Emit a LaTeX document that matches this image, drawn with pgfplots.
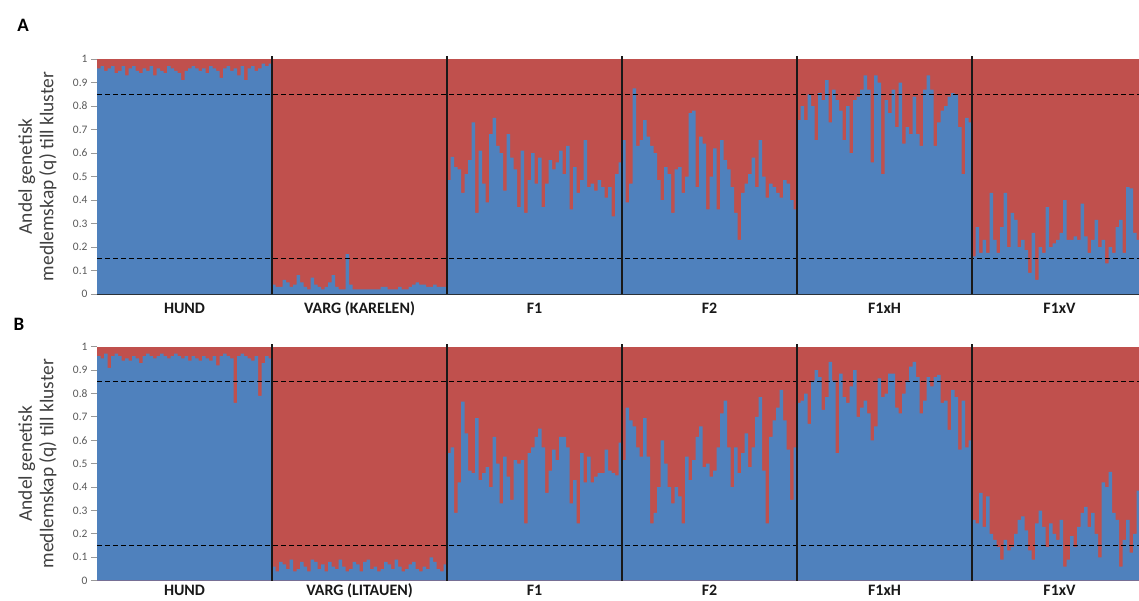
\documentclass[border=0pt]{standalone}
\usepackage{pgfplots}
\pgfplotsset{compat=1.18}
\usepackage{fontspec}
\setmainfont{Carlito}
\definecolor{qblue}{HTML}{4F81BD}
\definecolor{qred}{HTML}{C0504D}
\definecolor{tickgray}{HTML}{595959}
\newcommand{\grp}[2]{\addplot[fill=qblue, draw=none, const plot mark left] table[row sep=\\, x expr=\coordindex+#1, y=q] {q\\ #2} \closedcycle;}
\pgfplotsset{struct/.style={
  scale only axis, width=1042bp,
  xmin=0, xmax=297.7, ymin=0, ymax=1,
  clip=false,
  axis x line=bottom, axis y line=left,
  x axis line style={-, draw=black!85, line width=1.4bp},
  y axis line style={draw=none},
  ytick={0,0.1,0.2,0.3,0.4,0.5,0.6,0.7,0.8,0.9,1},
  yticklabel style={font=\fontsize{11.5}{13}\selectfont, text=tickgray},
  /pgf/number format/assume math mode=true,
  ytick style={draw=gray!80, line width=0.9bp},
  tick align=outside, major tick length=6bp,
  xtick={25,75,125,175,225,275},
  xtick style={draw=none},
  xticklabel style={font=\fontsize{16}{18}\selectfont\bfseries, text=black!90, anchor=base, yshift=-13bp},
  ylabel={Andel genetisk\\medlemskap (q) till kluster},
  ylabel style={align=center, font=\fontsize{19.5}{21.5}\selectfont, text=black!75, at={(axis description cs:-0.0571,0.5)}, anchor=center},
}}
\begin{document}
\begin{tikzpicture}
\useasboundingbox (0,0) rectangle (1139bp,-601bp);
\node[font=\fontsize{19}{22}\selectfont\bfseries] at (23bp,-25.5bp) {A};
\node[font=\fontsize{19}{22}\selectfont\bfseries] at (19bp,-324bp) {B};
% ---------------- Panel A
\begin{axis}[struct, height=235bp, at={(97bp,-294bp)}, anchor=south west,
  xticklabels={HUND,VARG (KARELEN),F1,F2,F1xH,F1xV}]
\addplot[fill=qred, draw=none] coordinates {(0,1) (300,1)} \closedcycle;
\grp{0}{0.96\\0.97\\0.95\\0.96\\0.97\\0.94\\0.95\\0.97\\0.93\\0.96\\0.97\\0.95\\0.94\\0.96\\0.95\\0.97\\0.93\\0.96\\0.95\\0.94\\0.97\\0.96\\0.95\\0.94\\0.91\\0.95\\0.96\\0.97\\0.96\\0.95\\0.96\\0.94\\0.97\\0.96\\0.95\\0.92\\0.96\\0.97\\0.95\\0.96\\0.93\\0.97\\0.91\\0.96\\0.97\\0.95\\0.96\\0.98\\0.97\\0.98\\0.98\\}
\grp{50}{0.04\\0.03\\0.03\\0.06\\0.05\\0.03\\0.04\\0.08\\0.05\\0.03\\0.02\\0.07\\0.04\\0.03\\0.02\\0.03\\0.05\\0.08\\0.03\\0.02\\0.02\\0.17\\0.04\\0.02\\0.02\\0.02\\0.02\\0.02\\0.02\\0.02\\0.02\\0.03\\0.03\\0.02\\0.02\\0.02\\0.03\\0.02\\0.02\\0.03\\0.04\\0.05\\0.04\\0.04\\0.03\\0.03\\0.04\\0.03\\0.03\\0.03\\0.03\\}
\grp{100}{0.485\\0.584\\0.54\\0.53\\0.43\\0.51\\0.57\\0.73\\0.345\\0.61\\0.47\\0.39\\0.68\\0.75\\0.63\\0.60\\0.44\\0.68\\0.58\\0.53\\0.37\\0.61\\0.345\\0.485\\0.60\\0.47\\0.58\\0.37\\0.47\\0.57\\0.53\\0.56\\0.61\\0.51\\0.63\\0.36\\0.54\\0.43\\0.485\\0.655\\0.455\\0.47\\0.44\\0.485\\0.455\\0.41\\0.455\\0.33\\0.51\\0.56\\0.56\\}
\grp{150}{0.655\\0.39\\0.47\\0.875\\0.63\\0.655\\0.74\\0.67\\0.63\\0.60\\0.485\\0.40\\0.54\\0.51\\0.345\\0.53\\0.54\\0.43\\0.50\\0.77\\0.78\\0.455\\0.67\\0.64\\0.36\\0.50\\0.62\\0.36\\0.655\\0.57\\0.53\\0.455\\0.345\\0.23\\0.43\\0.47\\0.51\\0.58\\0.455\\0.655\\0.50\\0.41\\0.47\\0.455\\0.43\\0.41\\0.485\\0.47\\0.40\\0.36\\0.36\\}
\grp{200}{0.74\\0.80\\0.74\\0.85\\0.80\\0.655\\0.855\\0.825\\0.91\\0.73\\0.87\\0.825\\0.78\\0.655\\0.80\\0.60\\0.825\\0.84\\0.87\\0.93\\0.87\\0.56\\0.93\\0.90\\0.51\\0.825\\0.77\\0.87\\0.71\\0.90\\0.64\\0.71\\0.68\\0.84\\0.68\\0.63\\0.87\\0.93\\0.87\\0.63\\0.73\\0.78\\0.80\\0.84\\0.855\\0.85\\0.71\\0.51\\0.75\\0.73\\0.73\\}
\grp{250}{0.16\\0.285\\0.175\\0.23\\0.175\\0.43\\0.23\\0.175\\0.285\\0.43\\0.20\\0.345\\0.315\\0.20\\0.23\\0.187\\0.09\\0.26\\0.06\\0.20\\0.175\\0.37\\0.20\\0.215\\0.23\\0.26\\0.40\\0.23\\0.23\\0.245\\0.23\\0.385\\0.245\\0.175\\0.23\\0.315\\0.20\\0.23\\0.13\\0.20\\0.175\\0.285\\0.315\\0.175\\0.455\\0.45\\0.26\\0.23\\0.20\\0.20\\0.20\\}
\addplot[black, line width=1.1bp, dash pattern=on 4.5bp off 3.5bp] coordinates {(0,0.85) (300,0.85)};
\addplot[black, line width=1.1bp, dash pattern=on 4.5bp off 3.5bp] coordinates {(0,0.15) (300,0.15)};
\addplot[black!90, line width=1.4bp] coordinates {(50,0) (50,1.013)};
\addplot[black!90, line width=1.4bp] coordinates {(100,0) (100,1.013)};
\addplot[black!90, line width=1.4bp] coordinates {(150,0) (150,1.013)};
\addplot[black!90, line width=1.4bp] coordinates {(200,0) (200,1.013)};
\addplot[black!90, line width=1.4bp] coordinates {(250,0) (250,1.013)};
\end{axis}
% ---------------- Panel B
\begin{axis}[struct, height=234bp, at={(97bp,-580.7bp)}, anchor=south west,
  xticklabel style={yshift=4bp},
  xticklabels={HUND,VARG (LITAUEN),F1,F2,F1xH,F1xV}]
\addplot[fill=qred, draw=none] coordinates {(0,1) (300,1)} \closedcycle;
\grp{0}{0.96\\0.95\\0.97\\0.91\\0.96\\0.97\\0.96\\0.94\\0.95\\0.94\\0.96\\0.95\\0.93\\0.96\\0.97\\0.96\\0.95\\0.96\\0.97\\0.96\\0.95\\0.96\\0.97\\0.96\\0.95\\0.96\\0.94\\0.96\\0.95\\0.94\\0.96\\0.95\\0.94\\0.96\\0.92\\0.96\\0.97\\0.96\\0.95\\0.76\\0.96\\0.97\\0.96\\0.95\\0.94\\0.96\\0.79\\0.93\\0.96\\0.95\\0.95\\}
\grp{50}{0.06\\0.04\\0.08\\0.07\\0.05\\0.09\\0.04\\0.05\\0.08\\0.06\\0.04\\0.09\\0.08\\0.05\\0.07\\0.04\\0.08\\0.06\\0.05\\0.09\\0.06\\0.04\\0.05\\0.08\\0.07\\0.04\\0.08\\0.09\\0.05\\0.06\\0.04\\0.05\\0.08\\0.07\\0.05\\0.09\\0.06\\0.04\\0.05\\0.07\\0.08\\0.05\\0.04\\0.06\\0.05\\0.10\\0.08\\0.05\\0.04\\0.07\\0.07\\}
\grp{100}{0.545\\0.57\\0.29\\0.42\\0.765\\0.63\\0.47\\0.46\\0.695\\0.43\\0.46\\0.485\\0.40\\0.615\\0.50\\0.33\\0.53\\0.445\\0.345\\0.515\\0.50\\0.515\\0.245\\0.545\\0.57\\0.615\\0.65\\0.57\\0.375\\0.47\\0.56\\0.515\\0.615\\0.615\\0.57\\0.33\\0.43\\0.245\\0.545\\0.42\\0.53\\0.42\\0.445\\0.46\\0.46\\0.56\\0.47\\0.46\\0.45\\0.59\\0.59\\}
\grp{150}{0.515\\0.74\\0.685\\0.66\\0.57\\0.53\\0.695\\0.53\\0.245\\0.29\\0.40\\0.60\\0.50\\0.40\\0.33\\0.40\\0.36\\0.245\\0.53\\0.43\\0.515\\0.615\\0.66\\0.485\\0.50\\0.445\\0.47\\0.57\\0.715\\0.77\\0.57\\0.40\\0.57\\0.46\\0.545\\0.63\\0.485\\0.57\\0.70\\0.785\\0.47\\0.245\\0.615\\0.685\\0.74\\0.815\\0.685\\0.56\\0.345\\0.57\\0.57\\}
\grp{200}{0.76\\0.77\\0.80\\0.67\\0.855\\0.90\\0.87\\0.73\\0.785\\0.935\\0.855\\0.545\\0.885\\0.785\\0.76\\0.83\\0.90\\0.70\\0.74\\0.77\\0.715\\0.60\\0.66\\0.865\\0.785\\0.80\\0.885\\0.885\\0.74\\0.715\\0.80\\0.855\\0.915\\0.935\\0.87\\0.715\\0.77\\0.87\\0.83\\0.87\\0.88\\0.76\\0.77\\0.645\\0.815\\0.785\\0.56\\0.77\\0.57\\0.60\\0.60\\}
\grp{250}{0.26\\0.245\\0.375\\0.23\\0.36\\0.20\\0.175\\0.145\\0.09\\0.175\\0.13\\0.145\\0.20\\0.26\\0.275\\0.215\\0.13\\0.09\\0.245\\0.30\\0.23\\0.145\\0.245\\0.20\\0.175\\0.26\\0.06\\0.09\\0.19\\0.145\\0.23\\0.29\\0.315\\0.23\\0.29\\0.20\\0.10\\0.42\\0.40\\0.465\\0.29\\0.26\\0.06\\0.175\\0.26\\0.12\\0.20\\0.385\\0.26\\0.345\\0.345\\}
\addplot[black, line width=1.1bp, dash pattern=on 4.5bp off 3.5bp] coordinates {(0,0.85) (300,0.85)};
\addplot[black, line width=1.1bp, dash pattern=on 4.5bp off 3.5bp] coordinates {(0,0.15) (300,0.15)};
\addplot[black!90, line width=1.4bp] coordinates {(50,0) (50,1.013)};
\addplot[black!90, line width=1.4bp] coordinates {(100,0) (100,1.013)};
\addplot[black!90, line width=1.4bp] coordinates {(150,0) (150,1.013)};
\addplot[black!90, line width=1.4bp] coordinates {(200,0) (200,1.013)};
\addplot[black!90, line width=1.4bp] coordinates {(250,0) (250,1.013)};
\end{axis}
\end{tikzpicture}
\end{document}
